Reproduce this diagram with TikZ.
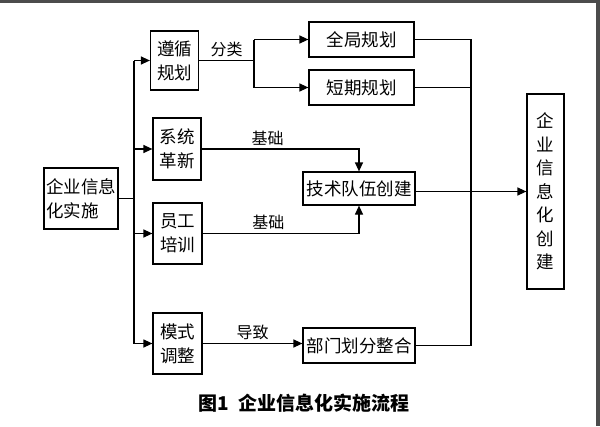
\documentclass[tikz,border=0pt]{standalone}
\usepackage{fontspec}
\setmainfont{Noto Sans CJK SC}
\usetikzlibrary{arrows.meta,positioning,calc}

\begin{document}
\begin{tikzpicture}[x=1pt,y=-1pt,line width=1.2pt,
  box/.style={draw,inner sep=2pt,align=center,font=\fontsize{17.5}{24}\selectfont},
  arr/.style={-{Triangle[length=9pt,width=8pt]}},
  lbl/.style={font=\fontsize{16}{20}\selectfont,inner sep=3pt}]
  \useasboundingbox (0,0) rectangle (600,426);
  \fill[white] (0,0) rectangle (600,426);
  \fill[black!70] (0,0) rectangle (600,3);
  \fill[black!70] (596,0) rectangle (600,426);
  \node[box,minimum width=74,minimum height=61,align=left] (qy) at (81,198.5) {企业信息\\化实施};
  \node[box,minimum width=48,minimum height=59] (zx) at (174.5,60.5) {遵循\\规划};
  \node[box,minimum width=48,minimum height=62] (xt) at (177,149) {系统\\革新};
  \node[box,minimum width=49,minimum height=61] (yg) at (177.5,233.5) {员工\\培训};
  \node[box,minimum width=49,minimum height=61] (mz) at (177.5,343.5) {模式\\调整};
  \node[box,minimum width=105,minimum height=35] (qj) at (361.5,39.5) {全局规划};
  \node[box,minimum width=105,minimum height=35] (dq) at (361.5,87.5) {短期规划};
  \node[box,minimum width=112,minimum height=33] (js) at (359,188.5) {技术队伍创建};
  \node[box,minimum width=112,minimum height=35] (bm) at (359,345.5) {部门划分整合};
  \node[box,minimum width=37,minimum height=195,font=\fontsize{17.5}{23.5}\selectfont] (cj) at (545.5,191.5) {企\\业\\信\\息\\化\\创\\建};
  \coordinate (busL) at (134,0);
  \coordinate (busR) at (471,0);
  \coordinate (split) at (254,0);
  \draw (qy) -- (qy -| busL);
  \draw (busL |- zx) -- (busL |- mz);
  \foreach \n in {zx,xt,yg,mz}
    \draw[arr] (busL |- \n) -- (\n);
  \draw (zx) -- (zx -| split) node[lbl,midway,above] {分类};
  \draw (split |- qj) -- (split |- dq);
  \draw[arr] (split |- qj) -- (qj);
  \draw[arr] (split |- dq) -- (dq);
  \draw (qj.east) -| (busR |- bm) -- (bm.east);
  \draw (dq) -- (dq -| busR);
  \draw[arr] (xt) -| (js) node[lbl,pos=0.21,above] {基础};
  \draw[arr] (yg) -| (js) node[lbl,pos=0.21,above] {基础};
  \draw[arr] (mz) -- (mz -| bm.west) node[lbl,midway,above] {导致};
  \draw[arr] (js.east |- cj) -- (cj);
  \node[font=\fontsize{19}{22}\selectfont\bfseries] (cap) at (304,403) {图1\hspace{10pt}企业信息化实施流程};
\end{tikzpicture}
\end{document}
